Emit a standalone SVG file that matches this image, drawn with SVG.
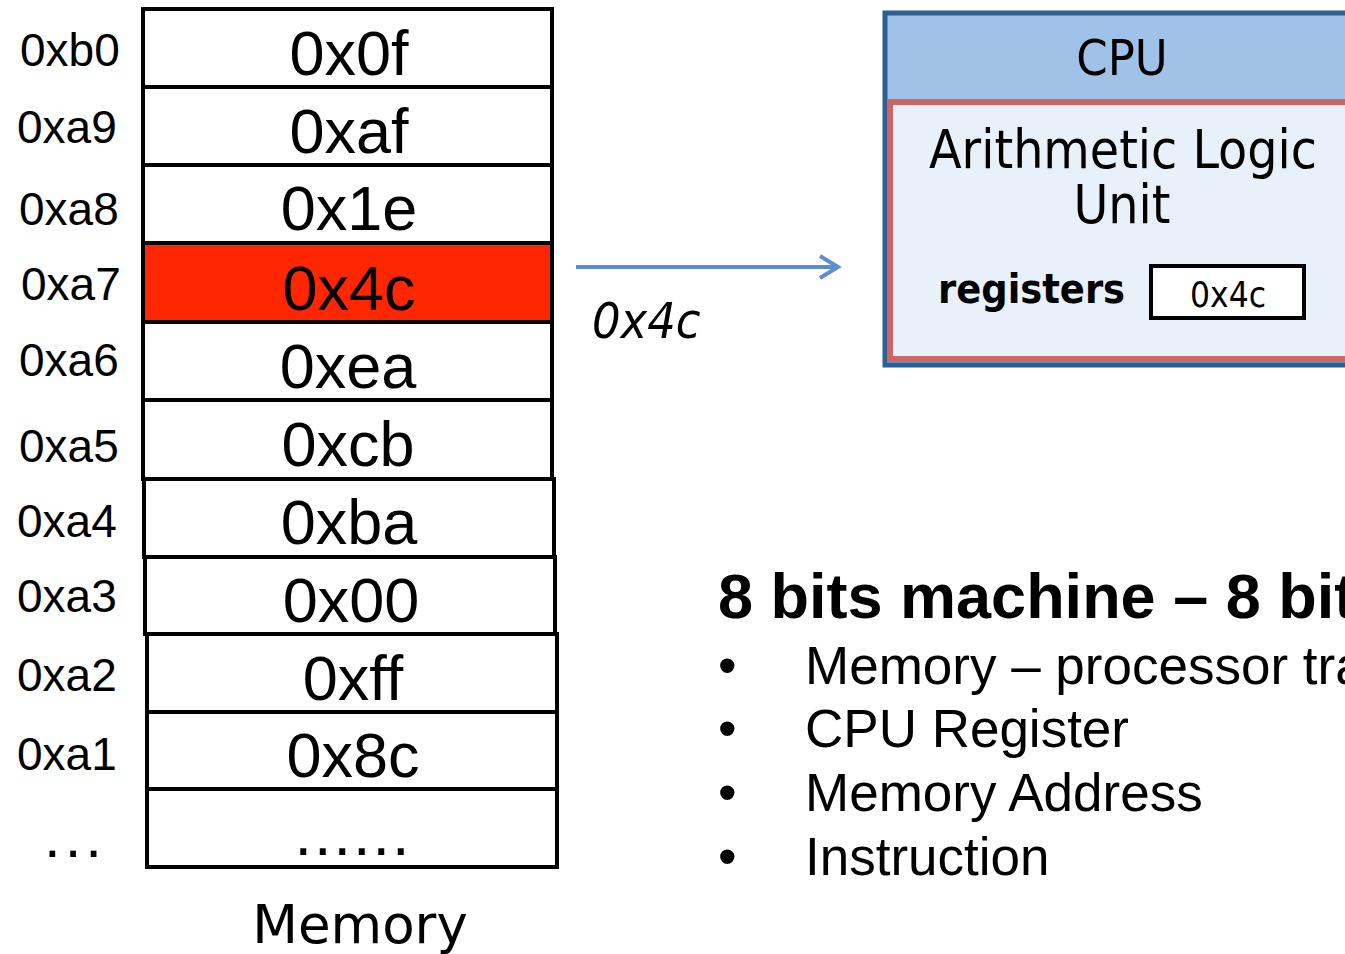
<svg xmlns="http://www.w3.org/2000/svg" width="1345" height="954" viewBox="0 0 1345 954">
<style>
.cell{fill:#fff;stroke:#000;stroke-width:4}
.hot{fill:#ff2600}
.val{font-family:"Liberation Sans",Arial,sans-serif;font-size:63px;text-anchor:middle;fill:#000}
.addr{font-family:"Liberation Sans",Arial,sans-serif;font-size:46px;fill:#000}
.cond{font-family:"DejaVu Sans Condensed","DejaVu Sans",sans-serif;font-stretch:condensed;fill:#000}
.bul{font-family:"Liberation Sans",Arial,sans-serif;font-size:53px;fill:#000}
</style>
<rect width="1345" height="954" fill="#fff"/>
<g id="memory">
<g id="cell-b0"><rect class="cell" x="143" y="9" width="409" height="78"/><text class="val" x="349" y="75">0x0f</text><text class="addr" x="20" y="66">0xb0</text></g>
<g id="cell-a9"><rect class="cell" x="143" y="87" width="409" height="78"/><text class="val" x="349" y="153">0xaf</text><text class="addr" x="17" y="143">0xa9</text></g>
<g id="cell-a8"><rect class="cell" x="143" y="165" width="409" height="78"/><text class="val" x="349" y="230">0x1e</text><text class="addr" x="19" y="225">0xa8</text></g>
<g id="cell-a7"><rect class="cell hot" x="143" y="243" width="409" height="79"/><text class="val" x="349" y="310">0x4c</text><text class="addr" x="21" y="300">0xa7</text></g>
<g id="cell-a6"><rect class="cell" x="143" y="322" width="409" height="78"/><text class="val" x="348" y="388">0xea</text><text class="addr" x="19" y="376">0xa6</text></g>
<g id="cell-a5"><rect class="cell" x="143" y="400" width="409" height="79"/><text class="val" x="348" y="466">0xcb</text><text class="addr" x="19" y="462">0xa5</text></g>
<g id="cell-a4"><rect class="cell" x="144" y="479" width="410" height="78"/><text class="val" x="349" y="544">0xba</text><text class="addr" x="17" y="537">0xa4</text></g>
<g id="cell-a3"><rect class="cell" x="145" y="557" width="410" height="77"/><text class="val" x="351" y="622">0x00</text><text class="addr" x="17" y="612">0xa3</text></g>
<g id="cell-a2"><rect class="cell" x="147" y="634" width="410" height="78"/><text class="val" x="353" y="700">0xff</text><text class="addr" x="17" y="691">0xa2</text></g>
<g id="cell-a1"><rect class="cell" x="147" y="712" width="410" height="77"/><text class="val" x="353" y="777">0x8c</text><text class="addr" x="17" y="770">0xa1</text></g>
<g id="cell-more"><rect class="cell" x="147" y="789" width="410" height="78"/><text class="val" x="353" y="855" font-size="68" letter-spacing="2">......</text><text x="44" y="857" font-family="'Liberation Sans',Arial,sans-serif" font-size="60" letter-spacing="4">...</text></g>
<text id="memory-label" x="360" y="943" font-size="53" text-anchor="middle" font-family="'DejaVu Sans',sans-serif">Memory</text>
</g>
<g id="connectors">
<line x1="576" y1="267" x2="836" y2="267" stroke="#5b8ecb" stroke-width="4"/>
<path d="M820,256 L838,267 L820,278" fill="none" stroke="#5b8ecb" stroke-width="4"/>
<text class="cond" x="592" y="338" font-size="50" font-style="italic">0x4c</text>
</g>
<g id="cpu">
<rect x="885" y="13" width="480" height="352" fill="#a0c2e8" stroke="#2d5f93" stroke-width="5"/>
<text class="cond" x="1122" y="75" font-size="50" text-anchor="middle">CPU</text>
<g id="alu">
<rect x="890" y="102" width="480" height="257" fill="#e8f0fa" stroke="#cd6662" stroke-width="6"/>
<text class="cond" x="1123" y="168" font-size="53" text-anchor="middle">Arithmetic Logic</text>
<text class="cond" x="1122" y="223" font-size="53" text-anchor="middle">Unit</text>
<text class="cond" x="938" y="303" font-size="41" font-weight="bold">registers</text>
<g id="register">
<rect x="1151" y="266" width="153" height="52" fill="#fff" stroke="#000" stroke-width="4"/>
<text class="cond" x="1228" y="307" font-size="35" text-anchor="middle">0x4c</text>
</g>
</g>
</g>
<g id="notes">
<text x="718" y="618" font-family="'Liberation Sans',Arial,sans-serif" font-size="63" font-weight="bold">8 bits machine – 8 bit</text>
<g class="bul">
<text x="718" y="684">•</text><text x="805" y="684">Memory – processor tra</text>
<text x="718" y="747">•</text><text x="805" y="747">CPU Register</text>
<text x="718" y="811">•</text><text x="805" y="811">Memory Address</text>
<text x="718" y="875">•</text><text x="805" y="875">Instruction</text>
</g>
</g>
</svg>
